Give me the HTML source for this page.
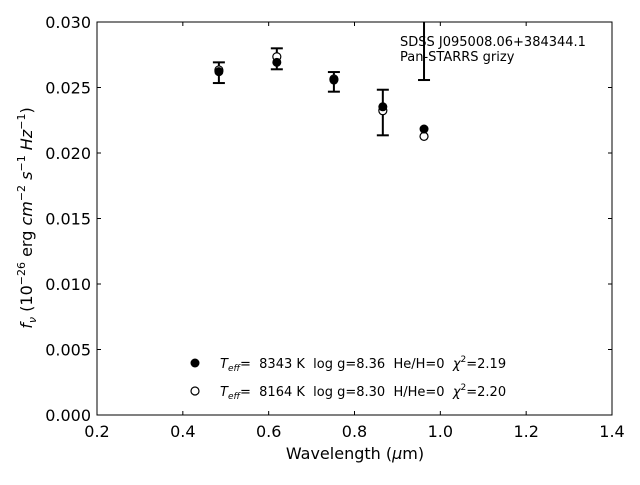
<!DOCTYPE html>
<html><head><meta charset="utf-8"><style>
body{margin:0;background:#fff;}
svg text{font-family:"DejaVu Sans","Liberation Sans",sans-serif;fill:#000;}
.pre{white-space:pre;}
</style></head><body>
<svg id="chart" width="640" height="480" xmlns="http://www.w3.org/2000/svg">
<defs><clipPath id="pc"><rect x="97" y="22" width="515" height="393"/></clipPath></defs>
<g id="axes"></g>
<g id="marks" clip-path="url(#pc)"></g>
<rect x="97" y="22" width="515" height="393" fill="none" stroke="#000" stroke-width="1"/>
<text x="400" y="46" font-size="13">SDSS J095008.06+384344.1</text>
<text x="400" y="61" font-size="13">Pan-STARRS grizy</text>
<text x="355" y="459" font-size="16" text-anchor="middle">Wavelength (<tspan font-style="italic">μ</tspan>m)</text>
<text transform="translate(32,218) rotate(-90)" font-size="16" text-anchor="middle"><tspan font-style="italic">f</tspan><tspan font-style="italic" font-size="11" dy="4">ν</tspan><tspan dy="-4"> (10</tspan><tspan font-size="11" dy="-7">−26</tspan><tspan dy="7"> erg </tspan><tspan font-style="italic">cm</tspan><tspan font-size="11" dy="-7">−2</tspan><tspan dy="7"> </tspan><tspan font-style="italic">s</tspan><tspan font-size="11" dy="-7">−1</tspan><tspan dy="7"> </tspan><tspan font-style="italic">Hz</tspan><tspan font-size="11" dy="-7">−1</tspan><tspan dy="7">)</tspan></text>
<g>
<circle cx="195" cy="363" r="4.5" fill="#000"/>
<text class="pre" x="220" y="368" font-size="13"><tspan font-style="italic">T</tspan><tspan font-style="italic" font-size="9" dy="3">eff</tspan><tspan dy="-3">=  8343 K  log g=8.36  He/H=0  </tspan><tspan font-style="italic">χ</tspan><tspan font-size="9" dy="-6">2</tspan><tspan dy="6">=2.19</tspan></text>
<circle cx="195" cy="391" r="4" fill="#fff" stroke="#000" stroke-width="1.2"/>
<text class="pre" x="220" y="396" font-size="13"><tspan font-style="italic">T</tspan><tspan font-style="italic" font-size="9" dy="3">eff</tspan><tspan dy="-3">=  8164 K  log g=8.30  H/He=0  </tspan><tspan font-style="italic">χ</tspan><tspan font-size="9" dy="-6">2</tspan><tspan dy="6">=2.20</tspan></text>
</g>
</svg>
<script>
const wavelengths=[0.484,0.619,0.752,0.866,0.962];
const obsFlux=[0.02613,0.02719,0.02543,0.02309,0.0301];
const obsErr=[0.00079,0.0008,0.00075,0.00174,0.00453];
const modelHe=[0.02621,0.02692,0.02557,0.02353,0.02183];
const modelH=[0.02634,0.02735,0.02565,0.02323,0.02127];
const xTicks=[0.2,0.4,0.6,0.8,1.0,1.2,1.4];
const yTicks=[0,0.005,0.01,0.015,0.02,0.025,0.03];
const X0=97,X1=612,Y0=415,Y1=22;
const xs=v=>X0+(v-0.2)/1.2*(X1-X0);
const ys=v=>Y0-v/0.03*(Y0-Y1);
const NS='http://www.w3.org/2000/svg';
function mk(tag,attrs,parent){const e=document.createElementNS(NS,tag);for(const k in attrs)e.setAttribute(k,attrs[k]);parent.appendChild(e);return e;}
const ax=document.getElementById('axes'),mg=document.getElementById('marks');
xTicks.forEach(t=>{const x=xs(t);
 let l=mk('line',{x1:x,x2:x,y1:Y0,y2:Y0-4,stroke:'#000'},ax);
 
 
 let l2=mk('line',{x1:x,x2:x,y1:Y1,y2:Y1+4,stroke:'#000'},ax);
 
 
 let tx=mk('text',{x:x,y:Y0+22,'font-size':16,'text-anchor':'middle'},ax);tx.textContent=t.toFixed(1);
 
 
});
yTicks.forEach(t=>{const y=ys(t);
 let l=mk('line',{x1:X0,x2:X0+4,y1:y,y2:y,stroke:'#000'},ax);
 
 
 let l2=mk('line',{x1:X1,x2:X1-4,y1:y,y2:y,stroke:'#000'},ax);
 
 
 let tx=mk('text',{x:X0-6,y:y+6,'font-size':16,'text-anchor':'end'},ax);tx.textContent=t.toFixed(3);
 
 
});
wavelengths.forEach((w,i)=>{const x=xs(w);
 const g=mk('g',{},mg);
 
 
 const yt=ys(obsFlux[i]+obsErr[i]),yb=ys(obsFlux[i]-obsErr[i]);
 mk('line',{x1:x,x2:x,y1:yt,y2:yb,stroke:'#000','stroke-width':2},g);
 mk('line',{x1:x-6,x2:x+6,y1:yt,y2:yt,stroke:'#000','stroke-width':2},g);
 mk('line',{x1:x-6,x2:x+6,y1:yb,y2:yb,stroke:'#000','stroke-width':2},g);
 const o=mk('circle',{cx:x,cy:ys(modelH[i]),r:4,fill:'#fff',stroke:'#000','stroke-width':1.2},mg);
 
 
 const f=mk('circle',{cx:x,cy:ys(modelHe[i]),r:4.5,fill:'#000'},mg);
 
 
});
</script>
</body></html>
